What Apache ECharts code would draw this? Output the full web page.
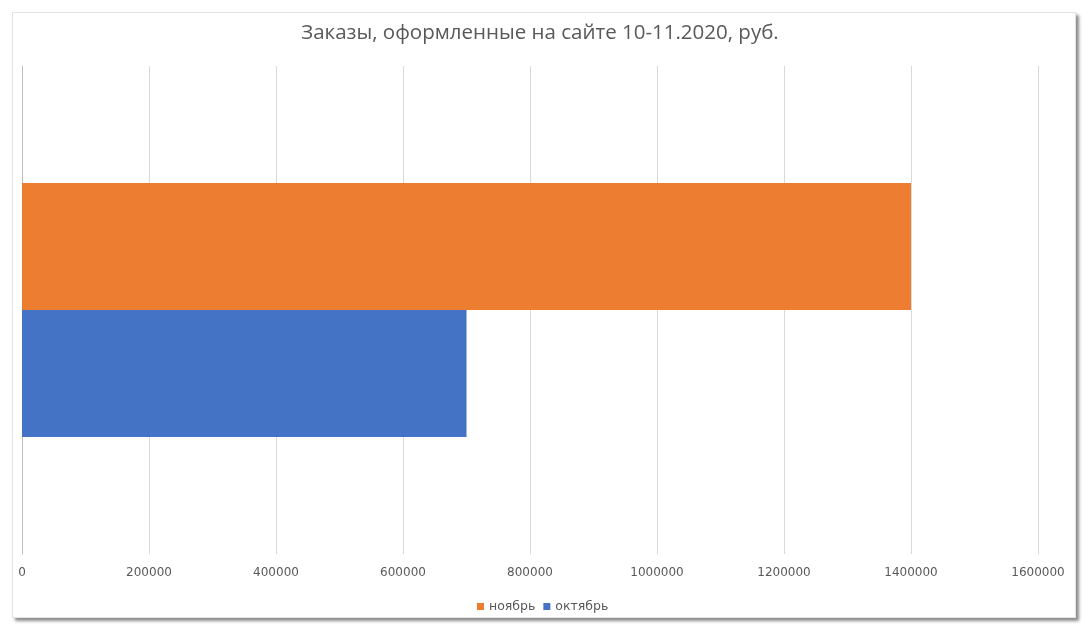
<!DOCTYPE html>
<html>
<head>
<meta charset="utf-8">
<script src="https://cdn.jsdelivr.net/npm/echarts@6/dist/echarts.min.js"></script>
<style>
  html, body { margin: 0; padding: 0; background: #fff; }
  .frame {
    position: absolute; left: 12px; top: 12px; width: 1062px; height: 604px;
    border: 1px solid #e3e3e3; background: #fff;
    box-shadow: 3px 3px 3px rgba(0, 0, 0, 0.45);
  }
  #chart { position: absolute; left: 0; top: 0; width: 1092px; height: 634px; }
</style>
</head>
<body>
<div class="frame"></div>
<div id="chart"></div>
<script>
// данные
const categories = ["Заказы"]
const seriesNames = ["ноябрь", "октябрь"]
const novemberValues = [1400000]
const octoberValues = [700000]
const legendOrder = ["ноябрь", "октябрь"]

const chart = echarts.init(document.getElementById("chart"), null, { renderer: "canvas" })

const option = {
  backgroundColor: "transparent",
  animation: false,
  title: {
    text: "Заказы, оформленные на сайте 10-11.2020, руб.",
    left: 535,
    textAlign: "center",
    top: 18,
    textStyle: {
      fontFamily: "Open Sans",
      fontSize: 20.5,
      fontWeight: "normal",
      color: "#595959"
    }
  },
  legend: {
    data: legendOrder,
    bottom: 16,
    left: 472,
    itemWidth: 7,
    itemHeight: 7,
    itemGap: 8,
    icon: "rect",
    textStyle: { fontSize: 12.5, color: "#595959", fontFamily: "DejaVu Sans" }
  },
  grid: {
    left: 22,
    right: 54,
    top: 66,
    bottom: 80,
    containLabel: false
  },
  xAxis: {
    type: "value",
    min: 0,
    max: 1600000,
    interval: 200000,
    axisLine: { show: false },
    axisTick: { show: false },
    splitLine: { show: true, lineStyle: { color: "#d9d9d9", width: 1 } },
    axisLabel: {
      margin: 13,
      fontSize: 12,
      color: "#595959",
      fontFamily: "DejaVu Sans",
      formatter: (v) => String(v)
    }
  },
  yAxis: {
    type: "category",
    data: categories,
    axisLine: { show: true, lineStyle: { color: "#bfbfbf" } },
    axisTick: { show: false },
    axisLabel: { show: false }
  },
  series: [
    {
      name: seriesNames[0],
      type: "bar",
      data: novemberValues,
      barGap: "0%",
      barCategoryGap: "48%",
      itemStyle: { color: "#ed7d31" }
    },
    {
      name: seriesNames[1],
      type: "bar",
      data: octoberValues,
      barGap: "0%",
      barCategoryGap: "48%",
      itemStyle: { color: "#4472c4" }
    }
  ]
}

chart.setOption(option)
</script>
</body>
</html>
